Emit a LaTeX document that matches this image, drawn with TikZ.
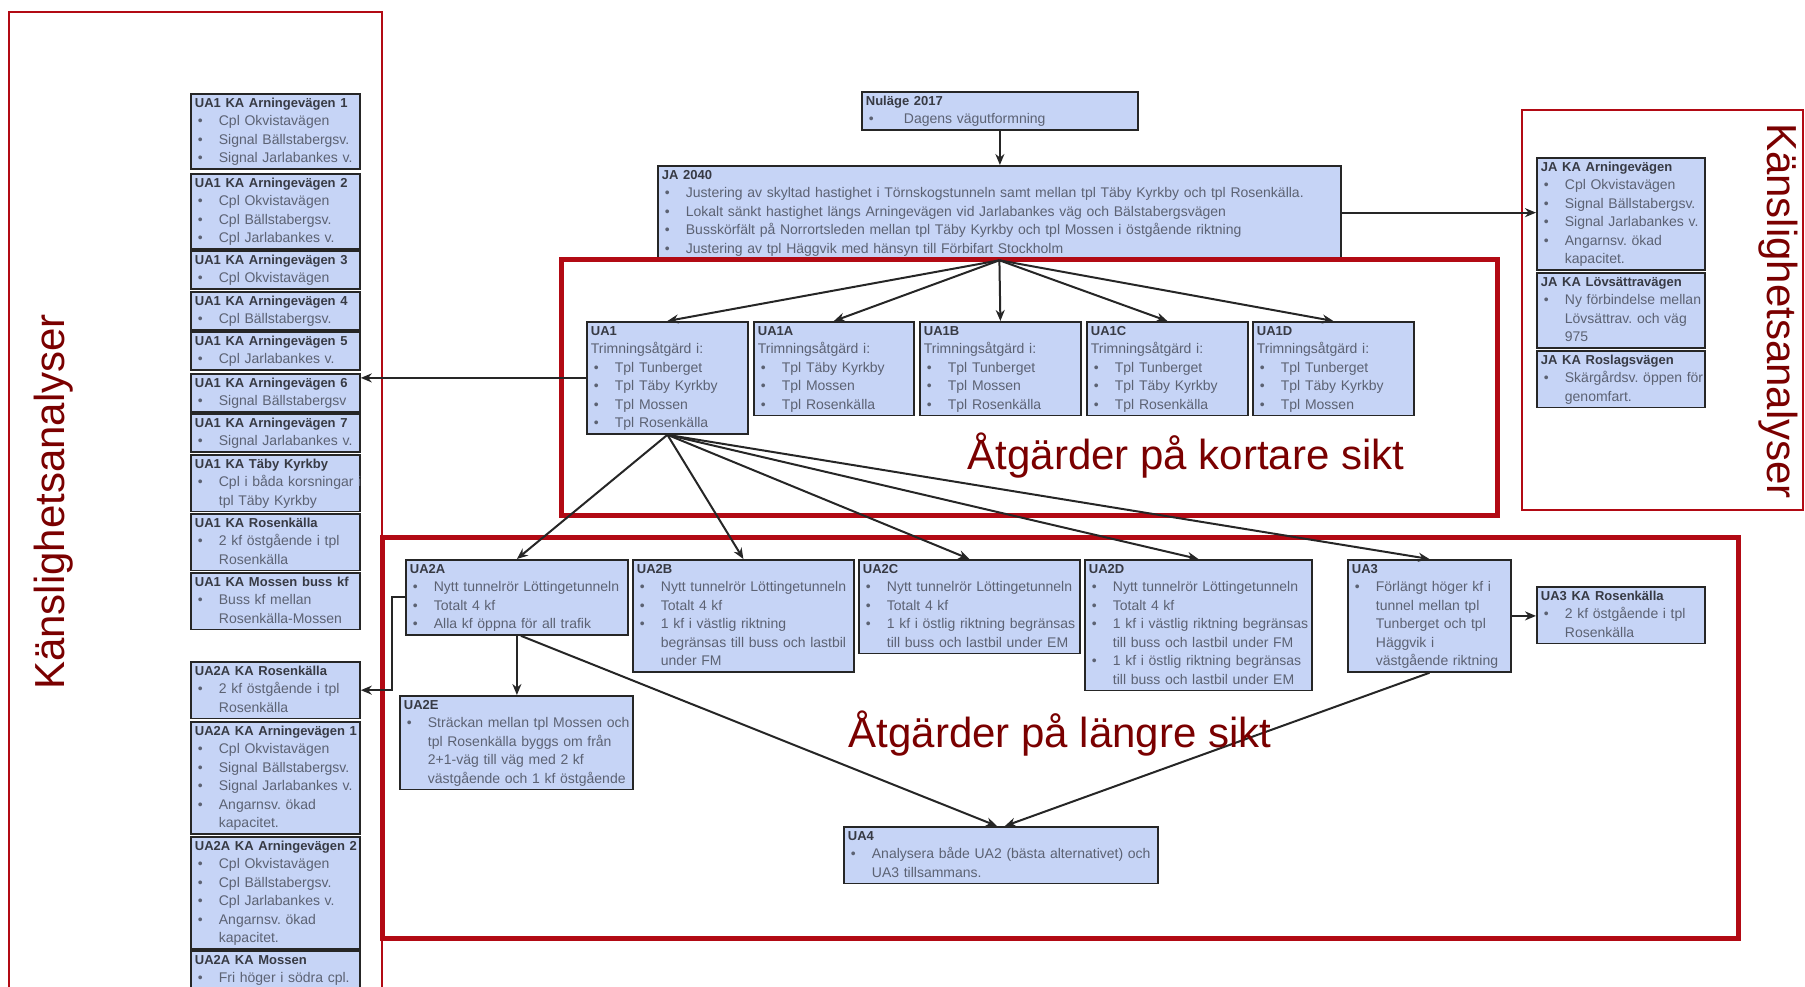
\documentclass[tikz,border=0pt]{standalone}
\usepackage{fontspec}
\setmainfont{Liberation Sans}
\usetikzlibrary{arrows.meta}
\definecolor{rutfarg}{RGB}{198,212,246}
\definecolor{ramrod}{RGB}{178,10,20}
\definecolor{textrod}{RGB}{122,0,0}
\definecolor{rubrikgra}{RGB}{55,58,68}
\definecolor{punktgra}{RGB}{92,98,115}
\frenchspacing

% rader i rutorna
\newcommand{\rub}[1]{\mbox{\strut\fontsize{13}{18.5}\selectfont\bfseries\color{rubrikgra}#1}}
\newcommand{\pkt}[1]{\mbox{\strut\hspace*{3pt}\makebox[21pt][l]{\textbullet}#1}}
\newcommand{\frt}[1]{\mbox{\strut\hspace*{24pt}#1}}
\newcommand{\rad}[1]{\mbox{\strut#1}}

\tikzset{
  ruta/.style={draw=black!85, line width=1.8pt, fill=rutfarg, anchor=north west,
    align=left, inner xsep=4pt, inner ysep=0.5pt, text=punktgra,
    font=\fontsize{14}{18.5}\selectfont},
  pil/.style={->, line width=2pt, draw=black!85},
  ramtunn/.style={draw=ramrod, line width=2.5pt},
  ramtjock/.style={draw=ramrod, line width=5pt},
  rubrik/.style={text=textrod, font=\fontsize{42}{50}\selectfont, inner sep=0pt}
}

\begin{document}
\begin{tikzpicture}[x=1pt, y=-1pt, >={Stealth[length=11pt,width=9pt]}]
    \useasboundingbox (0,0) rectangle (1805,986);

    % Nulage och JA
    \node[ruta, text width=268pt] (nul) at (861,91) {\rub{Nuläge 2017}\\ \pkt{\hspace*{14pt}Dagens vägutformning}};
    \node[ruta, text width=675pt] (ja) at (657,165) {\rub{JA 2040}\\
        \pkt{Justering av skyltad hastighet i Törnskogstunneln samt mellan tpl Täby Kyrkby och tpl Rosenkälla.}\\
        \pkt{Lokalt sänkt hastighet längs Arningevägen vid Jarlabankes väg och Bälstabergsvägen}\\
        \pkt{Busskörfält på Norrortsleden mellan tpl Täby Kyrkby och tpl Mossen i östgående riktning}\\
        \pkt{Justering av tpl Häggvik med hänsyn till Förbifart Stockholm}};

    % UA1-raden
    \node[ruta, text width=153pt] (ua1) at (586,321) {\rub{UA1}\\ \rad{Trimningsåtgärd i:}\\
        \pkt{Tpl Tunberget}\\ \pkt{Tpl Täby Kyrkby}\\ \pkt{Tpl Mossen}\\ \pkt{Tpl Rosenkälla}};
    \node[ruta, text width=152pt] (ua1a) at (753,321) {\rub{UA1A}\\ \rad{Trimningsåtgärd i:}\\
        \pkt{Tpl Täby Kyrkby}\\ \pkt{Tpl Mossen}\\ \pkt{Tpl Rosenkälla}};
    \node[ruta, text width=153pt] (ua1b) at (919,321) {\rub{UA1B}\\ \rad{Trimningsåtgärd i:}\\
        \pkt{Tpl Tunberget}\\ \pkt{Tpl Mossen}\\ \pkt{Tpl Rosenkälla}};
    \node[ruta, text width=153pt] (ua1c) at (1086,321) {\rub{UA1C}\\ \rad{Trimningsåtgärd i:}\\
        \pkt{Tpl Tunberget}\\ \pkt{Tpl Täby Kyrkby}\\ \pkt{Tpl Rosenkälla}};
    \node[ruta, text width=153pt] (ua1d) at (1252,321) {\rub{UA1D}\\ \rad{Trimningsåtgärd i:}\\
        \pkt{Tpl Tunberget}\\ \pkt{Tpl Täby Kyrkby}\\ \pkt{Tpl Mossen}};

    % UA2/UA3-raden
    \node[ruta, text width=214pt] (ua2a) at (405,559) {\rub{UA2A}\\
        \pkt{Nytt tunnelrör Löttingetunneln}\\ \pkt{Totalt 4 kf}\\ \pkt{Alla kf öppna för all trafik}};
    \node[ruta, text width=213pt] (ua2b) at (632,559) {\rub{UA2B}\\
        \pkt{Nytt tunnelrör Löttingetunneln}\\ \pkt{Totalt 4 kf}\\ \pkt{1 kf i västlig riktning}\\
        \frt{begränsas till buss och lastbil}\\ \frt{under FM}};
    \node[ruta, text width=213pt] (ua2c) at (858,559) {\rub{UA2C}\\
        \pkt{Nytt tunnelrör Löttingetunneln}\\ \pkt{Totalt 4 kf}\\ \pkt{1 kf i östlig riktning begränsas}\\
        \frt{till buss och lastbil under EM}};
    \node[ruta, text width=219pt] (ua2d) at (1084,559) {\rub{UA2D}\\
        \pkt{Nytt tunnelrör Löttingetunneln}\\ \pkt{Totalt 4 kf}\\ \pkt{1 kf i västlig riktning begränsas}\\
        \frt{till buss och lastbil under FM}\\ \pkt{1 kf i östlig riktning begränsas}\\
        \frt{till buss och lastbil under EM}};
    \node[ruta, text width=155pt] (ua3) at (1347,559) {\rub{UA3}\\
        \pkt{Förlängt höger kf i}\\ \frt{tunnel mellan tpl}\\ \frt{Tunberget och tpl}\\
        \frt{Häggvik i}\\ \frt{västgående riktning}};
    \node[ruta, text width=160pt] (ua3kros) at (1536,586) {\rub{UA3 KA Rosenkälla}\\
        \pkt{2 kf östgående i tpl}\\ \frt{Rosenkälla}};
    \node[ruta, text width=225pt] (ua2e) at (399,695) {\rub{UA2E}\\
        \pkt{Sträckan mellan tpl Mossen och}\\ \frt{tpl Rosenkälla byggs om från}\\
        \frt{2+1-väg till väg med 2 kf}\\ \frt{västgående och 1 kf östgående}};
    \node[ruta, text width=306pt] (ua4) at (843,826) {\rub{UA4}\\
        \pkt{Analysera både UA2 (bästa alternativet) och}\\ \frt{UA3 tillsammans.}};

    % Kanslighetsanalyser till vanster
    \node[ruta, text width=161pt] (ka1arn1) at (190,93) {\rub{UA1 KA Arningevägen 1}\\
        \pkt{Cpl Okvistavägen}\\ \pkt{Signal Bällstabergsv.}\\ \pkt{Signal Jarlabankes v.}};
    \node[ruta, text width=161pt] (ka1arn2) at (190,173) {\rub{UA1 KA Arningevägen 2}\\
        \pkt{Cpl Okvistavägen}\\ \pkt{Cpl Bällstabergsv.}\\ \pkt{Cpl Jarlabankes v.}};
    \node[ruta, text width=161pt] (ka1arn3) at (190,250) {\rub{UA1 KA Arningevägen 3}\\ \pkt{Cpl Okvistavägen}};
    \node[ruta, text width=161pt] (ka1arn4) at (190,291) {\rub{UA1 KA Arningevägen 4}\\ \pkt{Cpl Bällstabergsv.}};
    \node[ruta, text width=161pt] (ka1arn5) at (190,331) {\rub{UA1 KA Arningevägen 5}\\ \pkt{Cpl Jarlabankes v.}};
    \node[ruta, text width=161pt] (ka1arn6) at (190,373) {\rub{UA1 KA Arningevägen 6}\\ \pkt{Signal Bällstabergsv}};
    \node[ruta, text width=161pt] (ka1arn7) at (190,413) {\rub{UA1 KA Arningevägen 7}\\ \pkt{Signal Jarlabankes v.}};
    \node[ruta, text width=161pt] (ka1taby) at (190,454) {\rub{UA1 KA Täby Kyrkby}\\
        \pkt{Cpl i båda korsningar i}\\ \frt{tpl Täby Kyrkby}};
    \node[ruta, text width=161pt] (ka1ros) at (190,513) {\rub{UA1 KA Rosenkälla}\\
        \pkt{2 kf östgående i tpl}\\ \frt{Rosenkälla}};
    \node[ruta, text width=161pt] (ka1moss) at (190,572) {\rub{UA1 KA Mossen buss kf}\\
        \pkt{Buss kf mellan}\\ \frt{Rosenkälla-Mossen}};
    \node[ruta, text width=161pt] (ka2aros) at (190,661) {\rub{UA2A KA Rosenkälla}\\
        \pkt{2 kf östgående i tpl}\\ \frt{Rosenkälla}};
    \node[ruta, text width=161pt] (ka2aarn1) at (190,721) {\rub{UA2A KA Arningevägen 1}\\
        \pkt{Cpl Okvistavägen}\\ \pkt{Signal Bällstabergsv.}\\ \pkt{Signal Jarlabankes v.}\\
        \pkt{Angarnsv. ökad}\\ \frt{kapacitet.}};
    \node[ruta, text width=161pt] (ka2aarn2) at (190,836) {\rub{UA2A KA Arningevägen 2}\\
        \pkt{Cpl Okvistavägen}\\ \pkt{Cpl Bällstabergsv.}\\ \pkt{Cpl Jarlabankes v.}\\
        \pkt{Angarnsv. ökad}\\ \frt{kapacitet.}};
    \node[ruta, text width=161pt] (ka2amoss) at (190,950) {\rub{UA2A KA Mossen}\\ \pkt{Fri höger i södra cpl.}};

    % Kanslighetsanalyser till hoger
    \node[ruta, text width=160pt] (jaarn) at (1536,157) {\rub{JA KA Arningevägen}\\
        \pkt{Cpl Okvistavägen}\\ \pkt{Signal Bällstabergsv.}\\ \pkt{Signal Jarlabankes v.}\\
        \pkt{Angarnsv. ökad}\\ \frt{kapacitet.}};
    \node[ruta, text width=160pt] (jalovs) at (1536,272) {\rub{JA KA Lövsättravägen}\\
        \pkt{Ny förbindelse mellan}\\ \frt{Lövsättrav. och väg}\\ \frt{975}};
    \node[ruta, text width=160pt] (jaros) at (1536,350) {\rub{JA KA Roslagsvägen}\\
        \pkt{Skärgårdsv. öppen för}\\ \frt{genomfart.}};

    % Ramar
    \draw[ramtunn] (9,12) rectangle (382,1000);
    \draw[ramtunn] (1522,110) rectangle (1803,510);
    \draw[ramtjock] (561,259) rectangle (1497,515);
    \draw[ramtjock] (382,537) rectangle (1738,938);

    % Pilar
    \draw[pil] (nul.south) -- (nul.south |- ja.north);
    \draw[pil] (ja.east) -- (ja.east -| jaarn.west);
    \foreach \mal in {ua1, ua1a, ua1b, ua1c, ua1d}
        \draw[pil] (ja.south) -- (\mal.north);
    \draw[pil] (ua1.west) -- (ua1.west -| ka1arn6.east);
    \foreach \mal in {ua2a, ua2b, ua2c, ua2d, ua3}
        \draw[pil] (ua1.south) -- (\mal.north);
    \draw[pil] (ua2a.west) -- ++(-13,0) |- (ka2aros.east);
    \draw[pil] (ua2a.south) -- (ua2a.south |- ua2e.north);
    \draw[pil] ([xshift=4pt]ua2a.south) -- ([xshift=-4pt]ua4.north);
    \draw[pil] (ua3.south) -- ([xshift=4pt]ua4.north);
    \draw[pil] (ua3.east) -- (ua3.east -| ua3kros.west);

    % Rubriker
    \node[rubrik, rotate=90] (vtitel) at (54,502) {Känslighetsanalyser};
    \node[rubrik, rotate=-90] (htitel) at (1778,311) {Känslighetsanalyser};
    \node[rubrik, anchor=base] (kort) at (1186,469) {Åtgärder på kortare sikt};
    \node[rubrik, anchor=base] (lang) at (1060,747) {Åtgärder på längre sikt};
\end{tikzpicture}
\end{document}
